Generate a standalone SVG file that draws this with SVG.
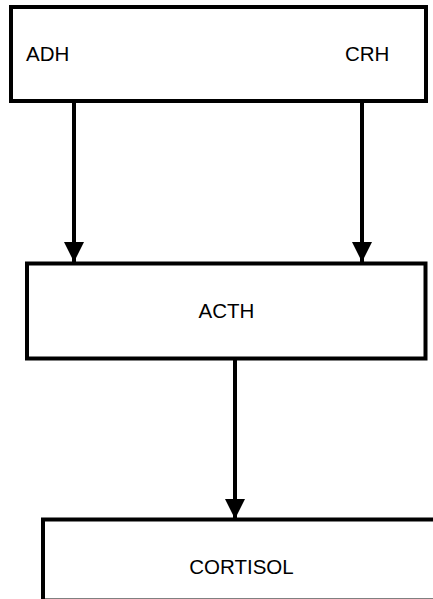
<svg xmlns="http://www.w3.org/2000/svg" width="433" height="599" viewBox="0 0 433 599">
  <style>
    .box { fill: #fff; stroke: #000; stroke-width: 4; }
    .lbl { font-family: "Liberation Sans", Arial, sans-serif; font-size: 20.5px; fill: #000; }
    .edge { stroke: #000; stroke-width: 4; fill: none; }
  </style>
  <defs>
    <marker id="arrow" markerUnits="userSpaceOnUse" markerWidth="20" markerHeight="20" viewBox="0 0 20 20" refX="20" refY="10" orient="auto">
      <path d="M0,0 L20,10 L0,20 Z" fill="#000"/>
    </marker>
  </defs>
  <rect width="433" height="599" fill="#fff"/>

  <g id="connectors">
    <line class="edge" x1="74" y1="101" x2="74" y2="262" marker-end="url(#arrow)"/>
    <line class="edge" x1="362" y1="101" x2="362" y2="262" marker-end="url(#arrow)"/>
    <line class="edge" x1="235" y1="358" x2="235" y2="519" marker-end="url(#arrow)"/>
  </g>

  <g id="node-adh-crh">
    <rect class="box" x="11" y="7" width="415" height="94"/>
    <text class="lbl" x="26" y="61">ADH</text>
    <text class="lbl" x="345" y="61">CRH</text>
  </g>

  <g id="node-acth">
    <rect class="box" x="27" y="263.5" width="398.5" height="95"/>
    <text class="lbl" x="226.5" y="318" text-anchor="middle">ACTH</text>
  </g>

  <g id="node-cortisol">
    <rect class="box" x="43" y="519.5" width="400" height="81"/>
    <text class="lbl" x="241.5" y="574" text-anchor="middle">CORTISOL</text>
  </g>
</svg>
